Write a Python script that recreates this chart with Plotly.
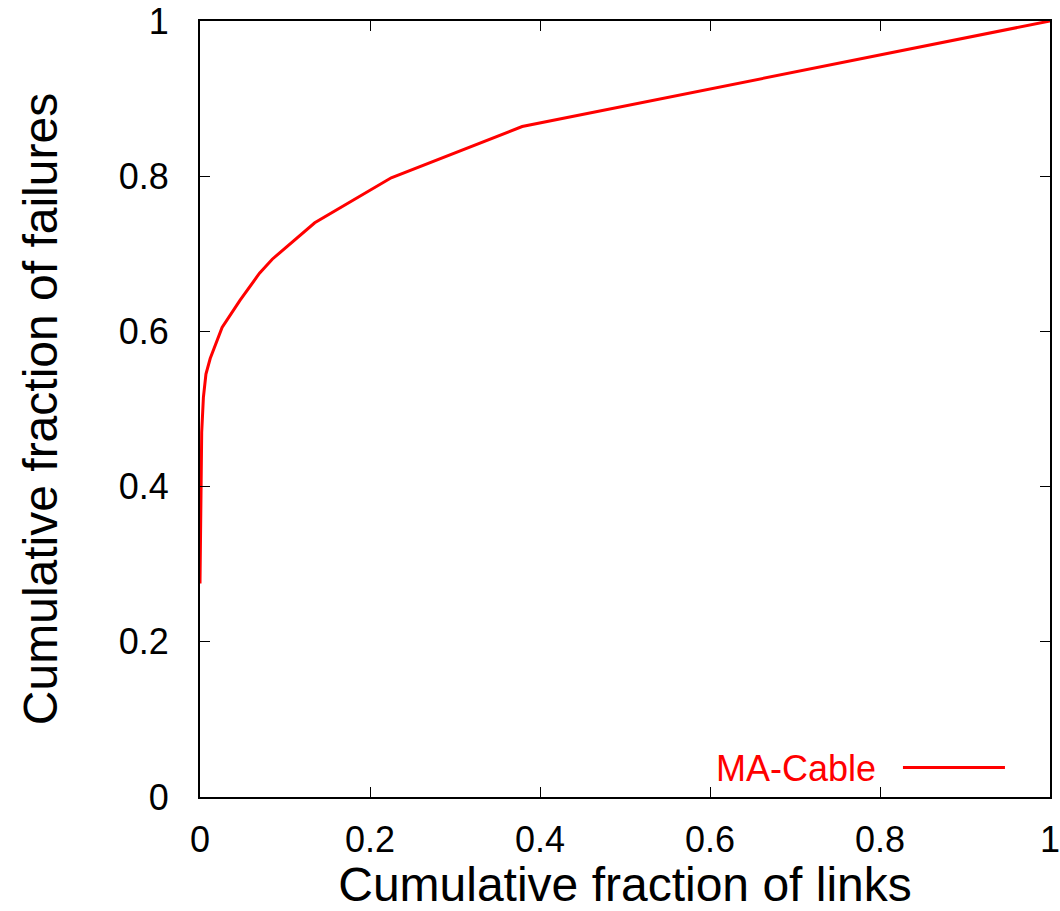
import plotly.graph_objects as go

# Data
link_frac = [0.0, 0.001, 0.002, 0.004, 0.007, 0.012, 0.026, 0.047, 0.07, 0.085, 0.135, 0.225, 0.379, 1.0]
failure_frac = [0.275, 0.40, 0.47, 0.515, 0.545, 0.565, 0.605, 0.64, 0.675, 0.693, 0.74, 0.798, 0.864, 1.0]
series_name = "MA-Cable"
tick_vals = [0, 0.2, 0.4, 0.6, 0.8, 1]
tick_text = ["0", "0.2", "0.4", "0.6", "0.8", "1"]

RED = "#ff0000"
FONT = "Liberation Sans, Arial, sans-serif"

fig = go.Figure()
fig.add_trace(go.Scatter(x=link_frac, y=failure_frac, mode="lines",
                         line=dict(color=RED, width=3), name=series_name,
                         showlegend=False, cliponaxis=False))

axis_common = dict(range=[0, 1], tickvals=tick_vals, ticktext=tick_text,
                   ticks="inside", ticklen=10, tickwidth=1, tickcolor="black",
                   showline=True, linecolor="black", linewidth=2,
                   mirror="allticks", showgrid=False, zeroline=False,
                   automargin=False, ticklabeloverflow="allow",
                   tickfont=dict(family=FONT, size=36, color="black"))

fig.update_xaxes(**axis_common, ticklabelstandoff=10,
                 title=dict(text="Cumulative fraction of links",
                            font=dict(family=FONT, size=48, color="black"),
                            standoff=12))
fig.update_yaxes(**axis_common, ticklabelstandoff=22,
                 title=dict(text="Cumulative fraction of failures",
                            font=dict(family=FONT, size=48, color="black"),
                            standoff=46))

# Legend (text left of line sample, gnuplot style)
fig.add_annotation(x=0.798, y=0.037, xref="paper", yref="paper",
                   text=series_name, showarrow=False, xanchor="right", yanchor="middle",
                   font=dict(family=FONT, size=36, color=RED))
fig.add_shape(type="line", xref="paper", yref="paper",
              x0=0.827, x1=0.947, y0=0.038, y1=0.038,
              line=dict(color=RED, width=3))

fig.update_layout(width=1060, height=911,
                  margin=dict(l=200, r=10, t=21, b=114),
                  plot_bgcolor="white", paper_bgcolor="white",
                  font=dict(family=FONT))

fig.write_html("out.html")
